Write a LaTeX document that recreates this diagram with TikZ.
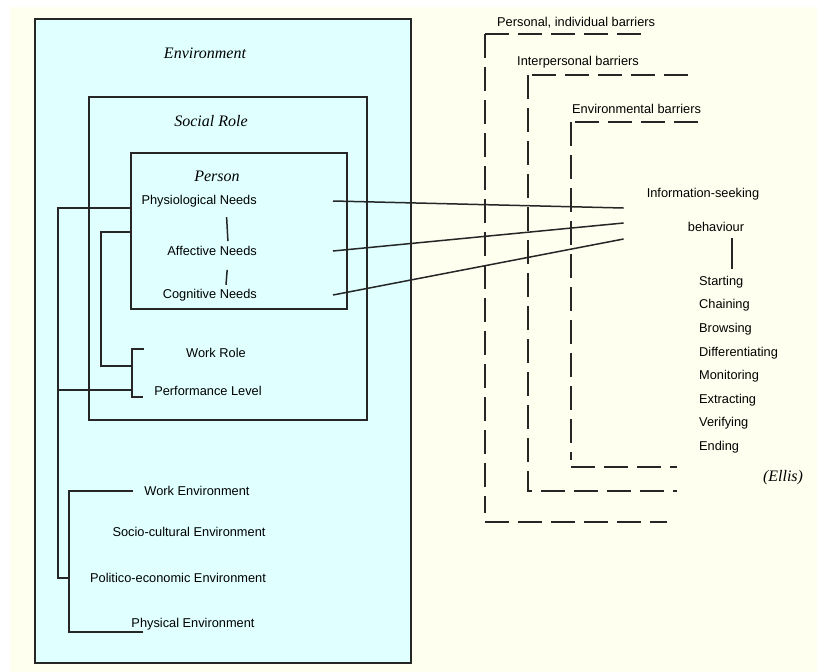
\documentclass[tikz,border=0pt]{standalone}
\usepackage{fontspec}
\setmainfont{Liberation Serif}
\setsansfont{Liberation Sans}
\usetikzlibrary{calc}

\definecolor{ivory}{HTML}{FFFFF0}
\definecolor{paleblue}{HTML}{E0FFFF}
\definecolor{ink}{HTML}{262626}

\tikzstyle{box} = [draw=ink, line width=1.7pt]
\tikzstyle{link} = [draw=ink, line width=1.5pt]
\tikzstyle{barrier} = [draw=ink, line width=1.4pt, dash pattern=on 24pt off 9pt]
\tikzstyle{heading} = [font=\fontsize{16}{18}\selectfont\itshape, inner sep=2pt]
\tikzstyle{item} = [font=\sffamily\fontsize{12.8}{15}\selectfont, inner sep=2pt]

\begin{document}
\begin{tikzpicture}[x=1pt, y=-1pt]
\useasboundingbox (0,0) rectangle (817,672);
\fill[white] (0,0) rectangle (817,672);
\fill[ivory] (10,7) rectangle (817,672);

% nested boxes
\draw[box, fill=paleblue] (35,19) rectangle (411,663);
\draw[box] (89,97) rectangle (367,420);
\draw[box] (131,153) rectangle (347,309);

\node[heading] (env) at (205,53) {Environment};
\node[heading] (social) at (211,121) {Social Role};
\node[heading] (person) at (217,176) {Person};

% needs
\node[item, anchor=east] (phys) at (259,201) {Physiological Needs};
\node[item, anchor=east] (aff) at (259,251) {Affective Needs};
\node[item, anchor=east] (cog) at (259,295) {Cognitive Needs};
\draw[link, shorten <=8pt, shorten >=3pt] ([xshift=27pt]phys.south) -- ([xshift=16pt]aff.north);
\draw[link, shorten <=12pt, shorten >=2pt] ([xshift=16pt]aff.south) -- ([xshift=16pt]cog.north);

% social role
\node[item] (workrole) at (216,353) {Work Role};
\node[item] (perf) at (208,391) {Performance Level};

% environment
\node[item] (workenv) at (197,491) {Work Environment};
\node[item] (socio) at (189,532) {Socio-cultural Environment};
\node[item] (politico) at (178,578) {Politico-economic Environment};
\node[item] (physenv) at (193,624) {Physical Environment};

% left connectors
\draw[link] (131,208) -| (58,578) -- (69,578);
\draw[link] (58,390) -- (132,390);
\draw[link] (131,232) -| (101,366) -- (132,366);
\draw[link] (144,349) -| (132,397) -- (143,397);
\draw[link] (133,491) -| (69,632) -- (143,632);

% information-seeking behaviour
\node[item] (info) at (703,194) {Information-seeking};
\node[item] (behav) at (716,227) {behaviour};
\coordinate (isb) at ([xshift=-21pt]info.west);
\draw[link] ([xshift=74pt]phys.east) -- ($(isb)+(0,14)$);
\draw[link] ([xshift=74pt]aff.east) -- ($(isb)+(0,29)$);
\draw[link] ([xshift=74pt]cog.east) -- ($(isb)+(0,45)$);

\foreach \name [count=\i from 0] in {Starting, Chaining, Browsing, Differentiating,
    Monitoring, Extracting, Verifying, Ending}
    \node[item, anchor=west] (stage\i) at (697,282+23.6*\i) {\name};
\draw[link, shorten <=4pt, shorten >=5pt] ([xshift=16pt]behav.south) -- ([xshift=16pt]behav.south |- stage0.north);

\node[heading] (ellis) at (783,478) {(Ellis)};

% barriers
\node[item, anchor=west] (personal) at (495,23) {Personal, individual barriers};
\node[item, anchor=west] (inter) at (515,62) {Interpersonal barriers};
\node[item, anchor=west] (envbar) at (570,109) {Environmental barriers};
\draw[barrier] (485,34) -- (647,34);
\draw[barrier] (485,34) -- (485,513);
\draw[barrier] (485,522) -- (667,522);
\draw[barrier] (532,75) -- (689,75);
\draw[barrier] (528,75) -- (528,491) -- (677,491);
\draw[barrier] (575,122) -- (699,122);
\draw[barrier] (571,122) -- (571,460);
\draw[barrier] (571,467) -- (677,467);
\end{tikzpicture}
\end{document}
